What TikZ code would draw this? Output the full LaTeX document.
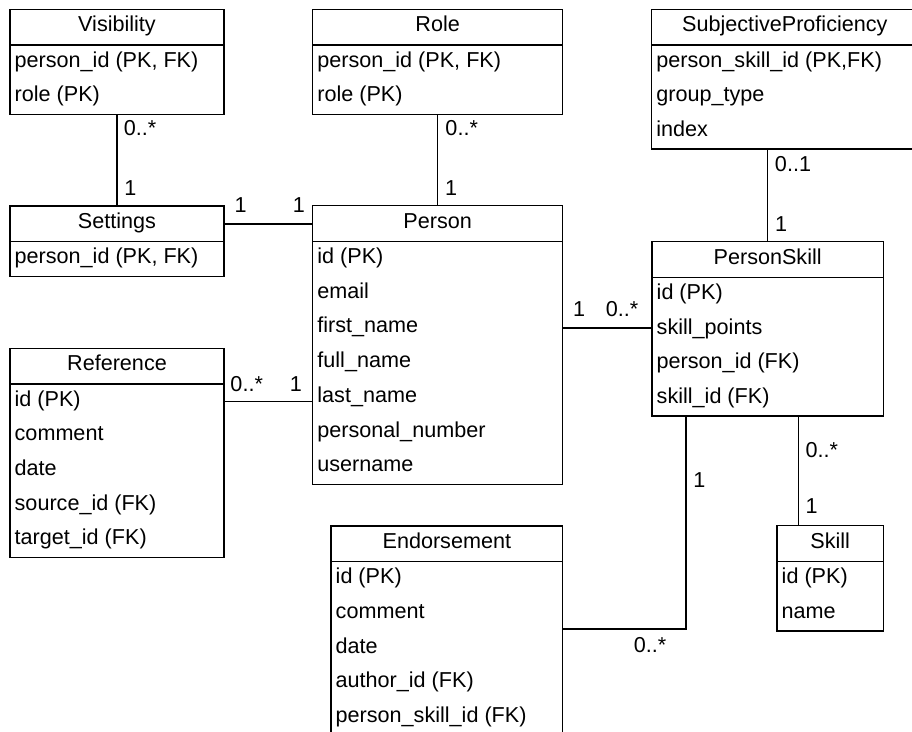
\documentclass[tikz,border=0pt]{standalone}
\usepackage{fontspec}
\setmainfont{Liberation Sans}

% header height and row pitch of every entity box
\def\hdr{35.7}
\def\rowh{34.7}

% \erbox{name}{left}{top}{right}{rows}{title}{row texts}
\newcommand\erbox[7]{%
  \pgfmathsetmacro\erW{#4-#2}%
  \pgfmathsetmacro\erH{#3+\hdr}%
  \pgfmathsetmacro\erHt{\hdr+\rowh*#5}%
  \node[entity, minimum width=\erW pt, minimum height=\erHt pt, anchor=north west] (#1) at (#2,#3) {};
  \coordinate (#1-h) at ({(#2+#4)/2},{#3+\hdr/2});
  \draw[conn] (#1.west |- 0,\erH) -- (#1.east |- 0,\erH);
  \node[ertitle] (#1-t) at ({(#2+#4)/2},{#3+\hdr/2+4.8}) {#6};
  \foreach \txt [count=\k from 0] in {#7} {
    \coordinate (#1-r\k) at (#2,{\erH+(\k+0.5)*\rowh});
    \node[errow] (#1-\k) at ({#2+4.5},{\erH+(\k+0.5)*\rowh+4.8}) {\txt};
  }%
}

\begin{document}
\begin{tikzpicture}[x=1pt,y=-1pt,
  every node/.style={font=\fontsize{21.6}{25}\selectfont},
  entity/.style={draw, line width=1.5pt, rectangle, inner sep=0pt, outer sep=0pt},
  conn/.style={line width=1.5pt},
  ertitle/.style={anchor=base, inner sep=0pt},
  errow/.style={anchor=base west, inner sep=0pt},
  mult/.style={anchor=base, inner sep=0pt}]

\useasboundingbox (0,0) rectangle (912,731);
\fill[white] (0,0) rectangle (912,731);
\clip (0,0) rectangle (912,731);

% entities
\erbox{vis}{10}{9.3}{224}{2}{Visibility}{{person\_id (PK, FK)},{role (PK)}}
\erbox{role}{312.7}{9.3}{562.7}{2}{Role}{{person\_id (PK, FK)},{role (PK)}}
\erbox{subj}{651.7}{9.3}{918}{3}{SubjectiveProficiency}{{person\_skill\_id (PK,FK)},{group\_type},{index}}
\erbox{settings}{10}{206}{224}{1}{Settings}{{person\_id (PK, FK)}}
\erbox{person}{312.7}{205.7}{562.7}{7}{Person}{{id (PK)},{email},{first\_name},{full\_name},{last\_name},{personal\_number},{username}}
\erbox{ps}{652}{241.7}{883.3}{4}{PersonSkill}{{id (PK)},{skill\_points},{person\_id (FK)},{skill\_id (FK)}}
\erbox{ref}{10}{348.3}{224}{5}{Reference}{{id (PK)},{comment},{date},{source\_id (FK)},{target\_id (FK)}}
\erbox{skill}{777}{525.7}{883.3}{2}{Skill}{{id (PK)},{name}}
\erbox{endo}{331}{526}{562.7}{5}{Endorsement}{{id (PK)},{comment},{date},{author\_id (FK)},{person\_skill\_id (FK)}}

% relationships
\draw[conn] (vis.south) -- (settings.north);
\draw[conn] (role.south) -- (person.north);
\draw[conn] (subj.south -| ps.north) -- (ps.north);
\draw[conn] (settings-h -| settings.east) -- (settings-h -| person.west);
\draw[conn] (person-r2 -| person.east) -- (person-r2 -| ps.west);
\draw[conn] (ref-r0 -| ref.east) -- (ref-r0 -| person.west);
\draw[conn] (ps.south -| 798.6,0) -- (skill.north -| 798.6,0);
\draw[conn] (ps.south -| 686,0) |- (endo.east |- 0,629);

% multiplicities
\node[mult] (m-vis-a) at (140,135) {0..*};
\node[mult] (m-vis-b) at (130.5,195.5) {1};
\node[mult] (m-role-a) at (461.7,135) {0..*};
\node[mult] (m-role-b) at (451,195.5) {1};
\node[mult] (m-subj-a) at (793,171) {0..1};
\node[mult] (m-subj-b) at (781,231) {1};
\node[mult] (m-set-a) at (240.7,212) {1};
\node[mult] (m-set-b) at (299,212) {1};
\node[mult] (m-ps-a) at (579,316) {1};
\node[mult] (m-ps-b) at (622,316) {0..*};
\node[mult] (m-ref-a) at (246.7,391) {0..*};
\node[mult] (m-ref-b) at (296,391) {1};
\node[mult] (m-sk-a) at (821.7,457) {0..*};
\node[mult] (m-sk-b) at (811.7,513.5) {1};
\node[mult] (m-en-a) at (699.3,487) {1};
\node[mult] (m-en-b) at (650,652) {0..*};
\end{tikzpicture}
\end{document}
